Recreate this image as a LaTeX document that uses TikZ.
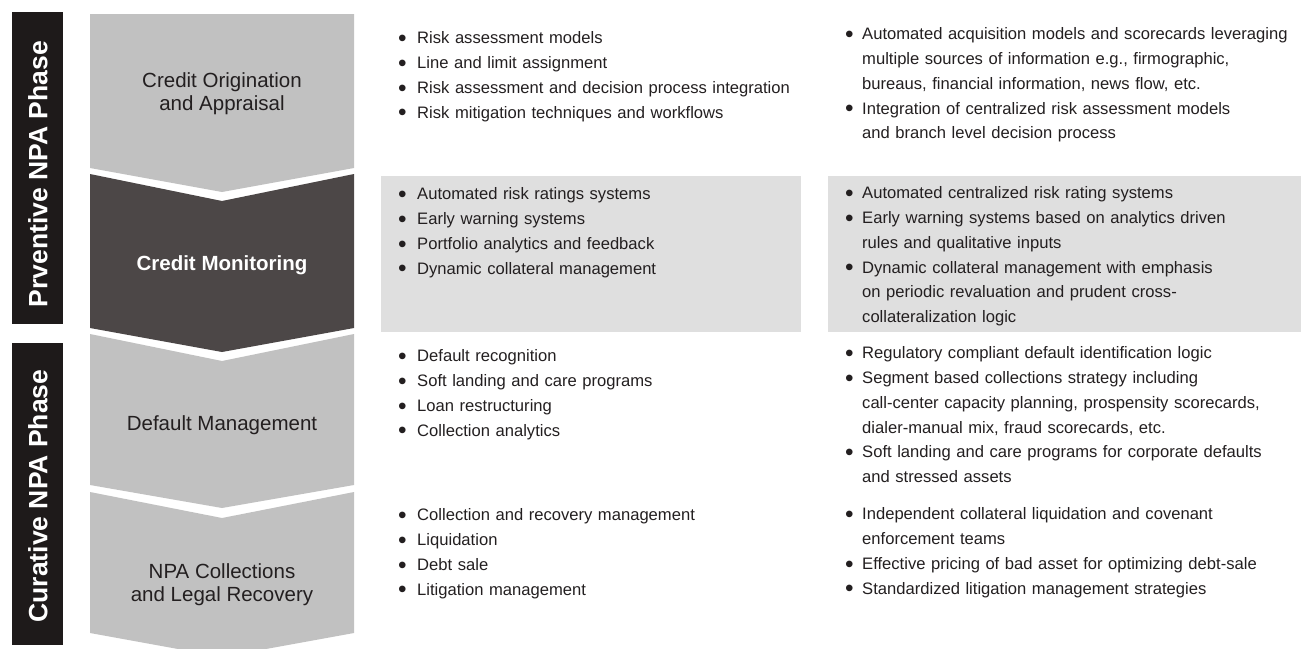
\documentclass[tikz,border=0pt]{standalone}
\usepackage{fontspec}
\setmainfont{Liberation Sans}
\definecolor{chevgray}{HTML}{C1C1C1}
\definecolor{chevdark}{HTML}{4C4747}
\definecolor{barblack}{HTML}{1E1A1A}
\definecolor{boxgray}{HTML}{DFDFDF}
\definecolor{txt}{HTML}{231F20}
\newlength{\bind}
\newcommand{\bigbul}{{\fontsize{24.4}{0}\selectfont\raisebox{-2.8pt}{\textbullet}}}
\newcommand{\li}[1]{\par\hangindent=\bind\hangafter=1\noindent\makebox[\bind][l]{\bigbul}\strut#1}
\tikzset{
  chevtext/.style={align=center, text=txt, font=\fontsize{20.5}{23}\selectfont, inner sep=0pt},
  phasetext/.style={rotate=90, text=white, font=\fontsize{26.5}{30}\selectfont\bfseries, inner sep=0pt},
  midlist/.style={anchor=north west, inner sep=0pt, text width=420pt, text=txt,
     font=\fontsize{16.6}{24.8}\selectfont\setlength{\bind}{19pt}},
  rightlist/.style={anchor=north west, inner sep=0pt, text width=450pt, text=txt,
     font=\fontsize{16.6}{24.8}\selectfont\setlength{\bind}{17pt}}
}
\begin{document}
\begin{tikzpicture}[x=1pt,y=-1pt]
\useasboundingbox (0,0) rectangle (1301,648);
\clip (0,0) rectangle (1301,648);
% phase bars
\fill[barblack] (12,12) rectangle (63,324);
\fill[barblack] (12,343) rectangle (63,645);
\node[phasetext] (prev) at (38,174) {Prventive NPA Phase};
\node[phasetext] (cur) at (38,496) {Curative NPA Phase};
% chevrons
\fill[chevgray] (90,14) -- (354,14) -- (354,168) -- (222,192) -- (90,168) -- cycle;
\fill[chevdark] (90,174) -- (222,201) -- (354,174) -- (354,328) -- (222,352) -- (90,328) -- cycle;
\fill[chevgray] (90,334) -- (222,361) -- (354,334) -- (354,485) -- (222,508) -- (90,485) -- cycle;
\fill[chevgray] (90,492) -- (222,518) -- (354,492) -- (354,633) -- (222,657) -- (90,633) -- cycle;
\node[chevtext] (orig) at (222,93.5) {Credit Origination\\and Appraisal};
\node[chevtext, text=white, font=\fontsize{20.5}{23}\selectfont\bfseries] (mon) at (222,265) {Credit Monitoring};
\node[chevtext] (def) at (222,425.5) {Default Management};
\node[chevtext] (coll) at (222,584.5) {NPA Collections\\and Legal Recovery};
% gray boxes
\fill[boxgray] (381,176) rectangle (801,332);
\fill[boxgray] (828,176) rectangle (1301,332);
% middle column
\node[midlist] (m1) at (398,18.6) {%
\li{Risk assessment models}
\li{Line and limit assignment}
\li{Risk assessment and decision process integration}
\li{Risk mitigation techniques and workflows}\par};
\node[midlist] (m2) at (398,174.6) {%
\li{Automated risk ratings systems}
\li{Early warning systems}
\li{Portfolio analytics and feedback}
\li{Dynamic collateral management}\par};
\node[midlist] (m3) at (398,336.6) {%
\li{Default recognition}
\li{Soft landing and care programs}
\li{Loan restructuring}
\li{Collection analytics}\par};
\node[midlist] (m4) at (398,495.6) {%
\li{Collection and recovery management}
\li{Liquidation}
\li{Debt sale}
\li{Litigation management}\par};
% right column
\node[rightlist] (r1) at (845,14.6) {%
\li{Automated acquisition models and scorecards leveraging\newline multiple sources of information e.g., firmographic,\newline bureaus, financial information, news flow, etc.}
\li{Integration of centralized risk assessment models\newline and branch level decision process}\par};
\node[rightlist] (r2) at (845,173.6) {%
\li{Automated centralized risk rating systems}
\li{Early warning systems based on analytics driven\newline rules and qualitative inputs}
\li{Dynamic collateral management with emphasis\newline on periodic revaluation and prudent cross-\newline collateralization logic}\par};
\node[rightlist] (r3) at (845,333.6) {%
\li{Regulatory compliant default identification logic}
\li{Segment based collections strategy including\newline call-center capacity planning, prospensity scorecards,\newline dialer-manual mix, fraud scorecards, etc.}
\li{Soft landing and care programs for corporate defaults\newline and stressed assets}\par};
\node[rightlist] (r4) at (845,494.6) {%
\li{Independent collateral liquidation and covenant\newline enforcement teams}
\li{Effective pricing of bad asset for optimizing debt-sale}
\li{Standardized litigation management strategies}\par};
\end{tikzpicture}
\end{document}
